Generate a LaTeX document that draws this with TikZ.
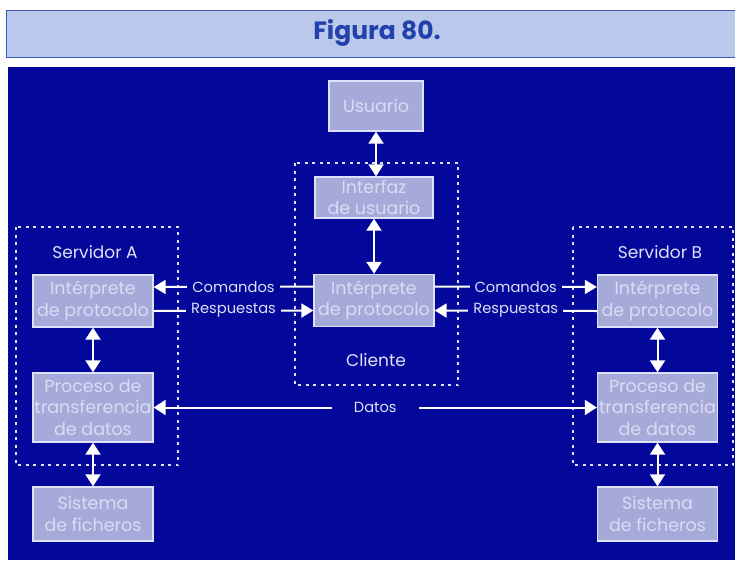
\documentclass[tikz,border=0pt]{standalone}
\usepackage{fontspec}
\setmainfont{Poppins}
\usetikzlibrary{arrows.meta}
\definecolor{bgblue}{HTML}{03089A}
\definecolor{boxfill}{HTML}{A6AAD8}
\definecolor{boxtext}{HTML}{D9DCF4}
\definecolor{boxline}{HTML}{DDE0F6}
\definecolor{titlefill}{HTML}{B9C8EB}
\definecolor{titletext}{HTML}{2341AA}
\definecolor{titleline}{HTML}{3C5ABE}

\begin{document}
\begin{tikzpicture}[
  x=1pt, y=-1pt,
  block/.style={draw=boxline, fill=boxfill, text=boxtext, line width=1.3pt,
    minimum width=120pt, minimum height=52pt, inner sep=0pt, align=center,
    font=\fontsize{17.5}{21.5}\selectfont},
  group/.style={draw=boxline, line width=2.5pt, dash pattern=on 3pt off 4.5pt},
  grouplbl/.style={text=boxline, font=\fontsize{17}{20}\selectfont},
  link/.style={draw=white, line width=2pt},
  tip/.style={-{Triangle[length=12pt,width=14pt]}},
  bitip/.style={{Triangle[length=12pt,width=15pt]}-{Triangle[length=12pt,width=15pt]}},
  msg/.style={fill=bgblue, text=boxline, inner xsep=5pt, inner ysep=1pt,
    font=\fontsize{14.7}{16}\selectfont}
]
  \useasboundingbox (0,0) rectangle (735,562);

  % heading
  \draw[fill=titlefill, draw=titleline, line width=0.8pt] (6,10) rectangle (738,57);
  \node[text=titletext, font=\fontsize{25}{28}\selectfont\bfseries] (title) at (377,33) {Figura 80.};
  \fill[bgblue] (8,67) rectangle (735,560);

  % dotted groups
  \draw[group] (295,163) rectangle (458,385);
  \draw[group] (16,227) rectangle (178,465);
  \draw[group] (573,227) rectangle (733,465);
  \node[grouplbl] (cli) at (376,360) {Cliente};
  \node[grouplbl] (srva) at (95,252) {Servidor A};
  \node[grouplbl] (srvb) at (660,252) {Servidor B};

  % client side
  \node[block, minimum width=94pt, minimum height=50pt] (user) at (376,106) {Usuario};
  \node[block, minimum width=118pt, minimum height=41pt] (ui) at (374,197.5) {Interfaz\\de usuario};
  \node[block] (cpi) at (374,300.5) {Intérprete\\de protocolo};

  % server A
  \node[block] (pia) at (93,301) {Intérprete\\de protocolo};
  \node[block, minimum height=69pt] (pta) at (93,407.5) {Proceso de\\transferencia\\de datos};
  \node[block, minimum height=54pt] (fsa) at (93,514) {Sistema\\de ficheros};

  % server B
  \node[block] (pib) at (657.5,301) {Intérprete\\de protocolo};
  \node[block, minimum height=69pt] (ptb) at (657.5,407.5) {Proceso de\\transferencia\\de datos};
  \node[block, minimum height=54pt] (fsb) at (657.5,514) {Sistema\\de ficheros};

  % vertical links
  \draw[link, bitip] (user) -- (user |- ui.north);
  \draw[link, bitip] (ui) -- (ui |- cpi.north);
  \draw[link, bitip] (pia) -- (pta);
  \draw[link, bitip] (pta) -- (fsa);
  \draw[link, bitip] (pib) -- (ptb);
  \draw[link, bitip] (ptb) -- (fsb);

  % control connection
  \draw[link, tip] ([yshift=14pt]cpi.west) -- node[msg] {Comandos} ([yshift=14pt]pia.east);
  \draw[link, tip] ([yshift=-10pt]pia.east) -- node[msg] {Respuestas} ([yshift=-10pt]cpi.west);
  \draw[link, tip] ([yshift=14pt]cpi.east) -- node[msg] {Comandos} ([yshift=14pt]pib.west);
  \draw[link, tip] ([yshift=-10pt]pib.west) -- node[msg] {Respuestas} ([yshift=-10pt]cpi.east);

  % data connection
  \draw[link, bitip] (pta) -- node[msg, inner xsep=22pt] {Datos} (ptb);
\end{tikzpicture}
\end{document}
